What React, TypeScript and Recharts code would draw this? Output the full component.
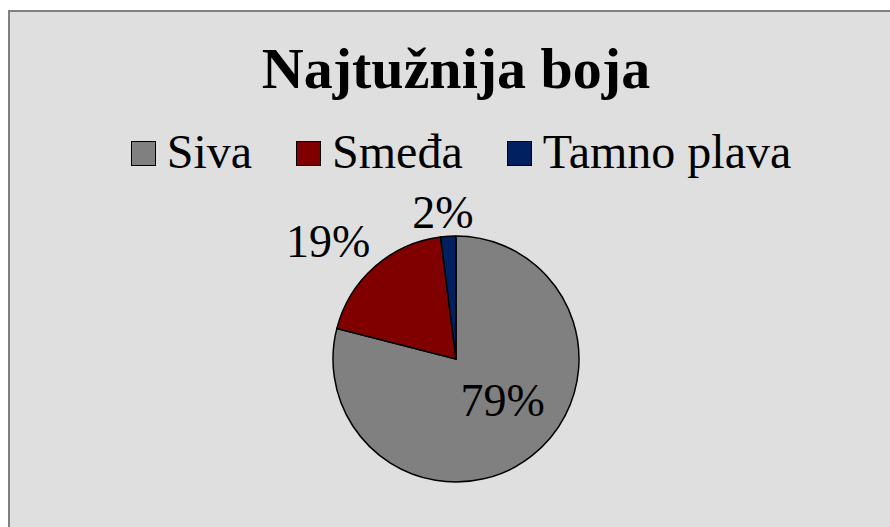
import { PieChart, Pie, Cell } from "recharts";

const categories = ["Siva", "Smeđa", "Tamno plava"];
const shares = [79, 19, 2];
const colors = ["#808080", "#800000", "#002060"];
const title = "Najtužnija boja";

const data = categories.map((name, i) => ({ name, value: shares[i] }));

const FONT = "'Liberation Serif', 'Times New Roman', serif";
const RAD = Math.PI / 180;

// label placement tweaks (radial gap from rim, then a small nudge)
const labelGap = [-60, 52, 22];
const labelNudge = [
  [8, -8],
  [-12, 14],
  [-4, -2],
];

interface LabelProps {
  cx: number;
  cy: number;
  midAngle: number;
  outerRadius: number;
  index: number;
  value: number;
}

function SliceLabel({ cx, cy, midAngle, outerRadius, index, value }: LabelProps) {
  const r = outerRadius + labelGap[index];
  const x = cx + r * Math.cos(-midAngle * RAD) + labelNudge[index][0];
  const y = cy + r * Math.sin(-midAngle * RAD) + labelNudge[index][1];
  return (
    <text
      x={x}
      y={y}
      textAnchor="middle"
      dominantBaseline="central"
      fill="#000"
      fontFamily={FONT}
      fontSize={46}
    >
      {`${value}%`}
    </text>
  );
}

export default function App() {
  return (
    <>
      <style>{"body{overflow:hidden}"}</style>
      <div
        style={{
          position: "fixed",
          left: 8,
          top: 10,
          width: 892,
          height: 540,
          background: "#dfdfdf",
          borderTop: "2px solid #808080",
          borderLeft: "2px solid #808080",
          fontFamily: FONT,
        }}
      >
        <div
          style={{
            position: "absolute",
            top: 28,
            left: 0,
            width: 892,
            textAlign: "center",
            fontFamily: FONT,
            fontSize: 58,
            fontWeight: "bold",
            lineHeight: "57px",
            color: "#000",
          }}
        >
          {title}
        </div>
        <div
          style={{
            position: "absolute",
            top: 116,
            left: 0,
            width: 892,
            paddingLeft: 10,
            boxSizing: "border-box",
            display: "flex",
            justifyContent: "center",
            alignItems: "center",
            fontFamily: FONT,
            fontSize: 48,
            lineHeight: "47px",
            color: "#000",
          }}
        >
          {categories.map((c, i) => (
            <div
              key={c}
              style={{ display: "flex", alignItems: "center", marginLeft: i === 0 ? 0 : 44 }}
            >
              <span
                style={{
                  display: "inline-block",
                  width: 23,
                  height: 23,
                  background: colors[i],
                  border: "1.5px solid #000",
                  marginRight: 11,
                  marginTop: 4,
                }}
              />
              <span style={{ fontFamily: FONT }}>{c}</span>
            </div>
          ))}
        </div>
        <div style={{ position: "absolute", left: 0, top: 0 }}>
          <PieChart width={892} height={515} margin={{ top: 0, right: 0, bottom: 0, left: 0 }}>
            <Pie
              data={data}
              dataKey="value"
              nameKey="name"
              cx={446}
              cy={347}
              outerRadius={123}
              startAngle={90}
              endAngle={-270}
              stroke="#000"
              strokeWidth={1.5}
              labelLine={false}
              label={SliceLabel as any}
              isAnimationActive={false}
            >
              {data.map((d, i) => (
                <Cell key={d.name} fill={colors[i]} />
              ))}
            </Pie>
          </PieChart>
        </div>
      </div>
    </>
  );
}
